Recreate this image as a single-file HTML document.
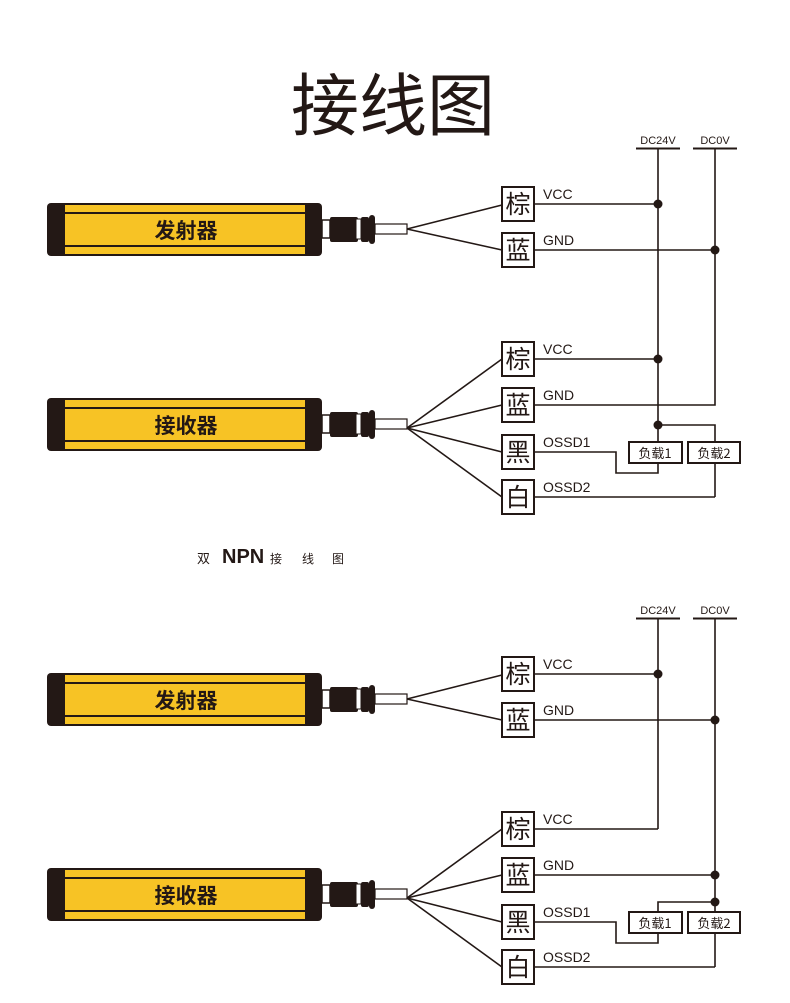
<!DOCTYPE html>
<html><head><meta charset="utf-8"><style>
html,body{margin:0;padding:0;background:#fff;}
svg{display:block;}
text{font-family:"Liberation Sans","Noto Sans CJK SC",sans-serif;fill:#231815;}
.cj{font-family:"Noto Sans CJK SC",sans-serif;}
</style></head><body>
<svg width="790" height="1003" viewBox="0 0 790 1003" xmlns="http://www.w3.org/2000/svg">
<defs>
<g id="bar">
  <rect x="47" y="0" width="275" height="53" rx="4" fill="#231815"/>
  <rect x="65" y="2" width="240" height="49" fill="#f7c325"/>
  <line x1="65" y1="10" x2="305" y2="10" stroke="#231815" stroke-width="2"/>
  <line x1="65" y1="43" x2="305" y2="43" stroke="#231815" stroke-width="2"/>
  <rect x="322" y="17" width="8" height="18" fill="#fff" stroke="#231815" stroke-width="1.5"/>
  <rect x="330" y="14" width="28" height="25" rx="2" fill="#231815"/>
  <rect x="356" y="16" width="5" height="20" fill="#fff" stroke="#231815"/>
  <rect x="361" y="14" width="8" height="25" rx="2" fill="#231815"/>
  <rect x="369" y="12" width="6" height="29" rx="3" fill="#231815"/>
  <rect x="375" y="21" width="32" height="10" fill="#fff" stroke="#231815" stroke-width="1.2"/>
</g>
<g id="top">
  <text x="658" y="144" font-size="11" text-anchor="middle">DC24V</text>
  <text x="715" y="144" font-size="11" text-anchor="middle">DC0V</text>
  <line x1="636" y1="148.5" x2="680" y2="148.5" stroke="#231815" stroke-width="2"/>
  <line x1="693" y1="148.5" x2="737" y2="148.5" stroke="#231815" stroke-width="2"/>
  <use href="#bar" transform="translate(0,203)"/>
  <text x="186" y="238" font-size="21" font-weight="bold" text-anchor="middle" class="cj">发射器</text>
  <g stroke="#231815" stroke-width="1.6" fill="none">
    <line x1="407" y1="229" x2="502" y2="205"/>
    <line x1="407" y1="229" x2="502" y2="250"/>
    <line x1="534" y1="204" x2="658" y2="204"/>
    <line x1="534" y1="250" x2="715" y2="250"/>
    <rect x="502" y="187" width="32" height="34" fill="#fff" stroke-width="2"/>
    <rect x="502" y="233" width="32" height="34" fill="#fff" stroke-width="2"/>
  </g>
  <circle cx="658" cy="204" r="4.5" fill="#231815"/>
  <circle cx="715" cy="250" r="4.5" fill="#231815"/>
  <text x="518" y="213" font-size="25" text-anchor="middle" class="cj">棕</text>
  <text x="518" y="259" font-size="25" text-anchor="middle" class="cj">蓝</text>
  <text x="543" y="199" font-size="14">VCC</text>
  <text x="543" y="245" font-size="14">GND</text>
  <use href="#bar" transform="translate(0,398)"/>
  <text x="186" y="433" font-size="21" font-weight="bold" text-anchor="middle" class="cj">接收器</text>
  <g stroke="#231815" stroke-width="1.6" fill="none">
    <line x1="407" y1="428" x2="502" y2="359"/>
    <line x1="407" y1="428" x2="502" y2="405"/>
    <line x1="407" y1="428" x2="502" y2="452"/>
    <line x1="407" y1="428" x2="502" y2="497"/>
    <line x1="534" y1="359" x2="658" y2="359"/>
    <polyline points="534,452 616,452 616,473 658,473 658,463"/>
    <line x1="534" y1="497" x2="715" y2="497"/>
    <line x1="715" y1="497" x2="715" y2="463"/>
    <rect x="502" y="342" width="32" height="34" fill="#fff" stroke-width="2"/>
    <rect x="502" y="388" width="32" height="34" fill="#fff" stroke-width="2"/>
    <rect x="502" y="435" width="32" height="34" fill="#fff" stroke-width="2"/>
    <rect x="502" y="480" width="32" height="34" fill="#fff" stroke-width="2"/>
    <rect x="629" y="442" width="53" height="21" fill="#fff" stroke-width="2"/>
    <rect x="688" y="442" width="52" height="21" fill="#fff" stroke-width="2"/>
  </g>
  <text x="518" y="368" font-size="25" text-anchor="middle" class="cj">棕</text>
  <text x="518" y="414" font-size="25" text-anchor="middle" class="cj">蓝</text>
  <text x="518" y="461" font-size="25" text-anchor="middle" class="cj">黑</text>
  <text x="518" y="506" font-size="25" text-anchor="middle" class="cj">白</text>
  <text x="543" y="354" font-size="14">VCC</text>
  <text x="543" y="400" font-size="14">GND</text>
  <text x="543" y="447" font-size="14">OSSD1</text>
  <text x="543" y="492" font-size="14">OSSD2</text>
  <text x="655" y="458" font-size="13" text-anchor="middle" class="cj">负载1</text>
  <text x="714" y="458" font-size="13" text-anchor="middle" class="cj">负载2</text>
</g>
</defs>

<text x="393" y="130" font-size="68" text-anchor="middle" class="cj">接线图</text>

<!-- Diagram 1 (NPN) -->
<use href="#top"/>
<g stroke="#231815" stroke-width="1.6" fill="none">
  <line x1="658" y1="149" x2="658" y2="442"/>
  <line x1="715" y1="149" x2="715" y2="250"/>
  <polyline points="534,405 715,405 715,250"/>
  <polyline points="658,425 715,425 715,442"/>
</g>
<circle cx="658" cy="359" r="4.5" fill="#231815"/>
<circle cx="658" cy="425" r="4.5" fill="#231815"/>

<text x="197" y="563" font-size="13" class="cj">双</text>
<text x="222" y="563" font-size="20" font-weight="bold">NPN</text>
<text x="270" y="563" font-size="12" class="cj">接</text>
<text x="302" y="563" font-size="12" class="cj">线</text>
<text x="332" y="563" font-size="12" class="cj">图</text>

<!-- Diagram 2 (PNP) -->
<use href="#top" transform="translate(0,470)"/>
<g stroke="#231815" stroke-width="1.6" fill="none">
  <polyline points="658,619 658,829"/>
  <line x1="715" y1="619" x2="715" y2="912"/>
  <line x1="534" y1="875" x2="715" y2="875"/>
  <polyline points="715,902 658,902 658,912"/>
</g>
<circle cx="715" cy="875" r="4.5" fill="#231815"/>
<circle cx="715" cy="902" r="4.5" fill="#231815"/>
</svg>
</body></html>
